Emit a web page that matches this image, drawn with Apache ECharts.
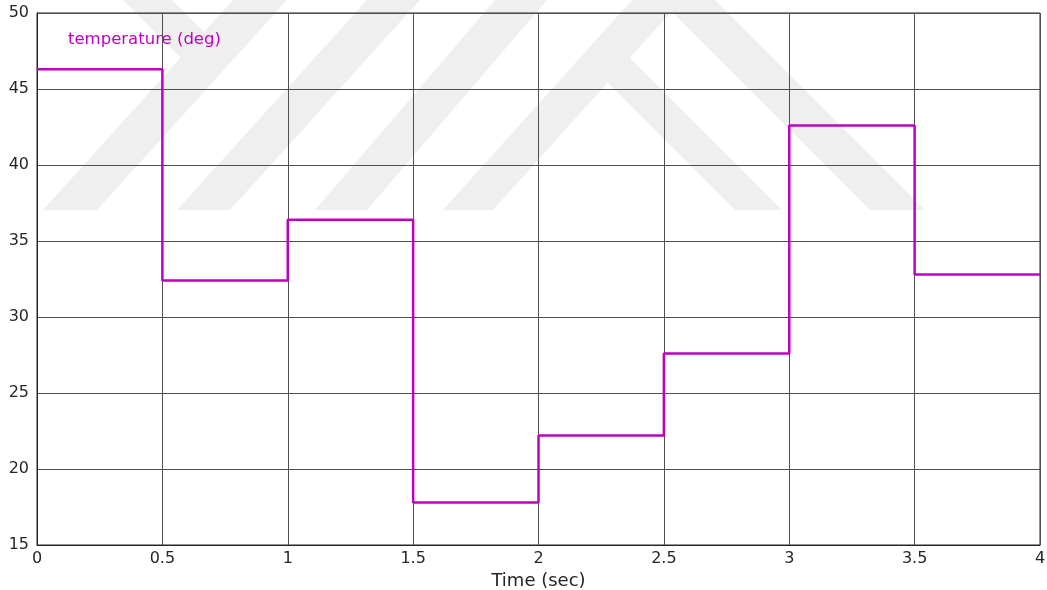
<!DOCTYPE html>
<html>
<head>
<meta charset="utf-8">
<script src="https://cdn.jsdelivr.net/npm/echarts@6/dist/echarts.min.js"></script>
<style>
  html, body { margin: 0; padding: 0; background: #ffffff; }
  #chart { width: 1047px; height: 590px; }
</style>
</head>
<body>
<div id="chart"></div>
<script>
// ---- data ----
const times = [0, 0.5, 1, 1.5, 2, 2.5, 3, 3.5, 4];
const temps = [46.3, 32.4, 36.4, 17.8, 22.2, 27.6, 42.6, 32.8, 32.8];
const seriesName = 'temperature (deg)';
const xAxisName = 'Time (sec)';

// ---- background watermark (decoration only) ----
const wm = '#efefef';
const watermark = [
  [[43,210],[97,210],[287,0],[233,0]],
  [[123,0],[172,0],[210,38],[186,63]],
  [[177,210],[230,210],[420,0],[367,0]],
  [[315,210],[367,210],[547,0],[495,0]],
  [[443,210],[493,210],[682,0],[632,0]],
  [[870,210],[925,210],[715,0],[660,0]],
  [[735,210],[782,210],[622,50],[600,75]]
].map(pts => ({
  type: 'polygon',
  z: -10,
  silent: true,
  shape: { points: pts },
  style: { fill: wm }
}));

const chart = echarts.init(document.getElementById('chart'), null, { renderer: 'canvas' });
const labelFont = { fontFamily: 'DejaVu Sans', fontSize: 16, color: '#262626' };

chart.setOption({
  backgroundColor: '#ffffff',
  animation: false,
  graphic: watermark,
  grid: {
    left: 37, right: 7, top: 13, bottom: 45,
    outerBoundsMode: 'none',
    containLabel: false,
    show: true, borderColor: '#262626', borderWidth: 1, backgroundColor: 'transparent'
  },
  legend: {
    data: [seriesName],
    left: 58, top: 26,
    itemWidth: 0, itemHeight: 0, icon: 'rect',
    textStyle: { fontFamily: 'DejaVu Sans', fontSize: 16.5, color: '#c000c0' }
  },
  xAxis: {
    type: 'value', min: 0, max: 4, interval: 0.5,
    name: xAxisName, nameLocation: 'middle', nameGap: 22,
    nameTextStyle: { fontFamily: 'DejaVu Sans', fontSize: 18, color: '#262626' },
    axisLine: { show: true, lineStyle: { color: '#262626', width: 1 } },
    axisTick: { show: false },
    axisLabel: Object.assign({ margin: 6 }, labelFont),
    splitLine: { show: true, lineStyle: { color: '#505050', width: 1 } }
  },
  yAxis: {
    type: 'value', min: 15, max: 50, interval: 5,
    axisLine: { show: true, lineStyle: { color: '#262626', width: 1 } },
    axisTick: { show: false },
    axisLabel: Object.assign({ margin: 8 }, labelFont),
    splitLine: { show: true, lineStyle: { color: '#505050', width: 1 } }
  },
  series: [{
    name: seriesName,
    type: 'line',
    step: 'end',
    showSymbol: false,
    symbol: 'none',
    data: times.map((t, i) => [t, temps[i]]),
    lineStyle: { color: '#c000c0', width: 2.5 },
    itemStyle: { color: '#c000c0' },
    z: 5
  }]
});
</script>
</body>
</html>
